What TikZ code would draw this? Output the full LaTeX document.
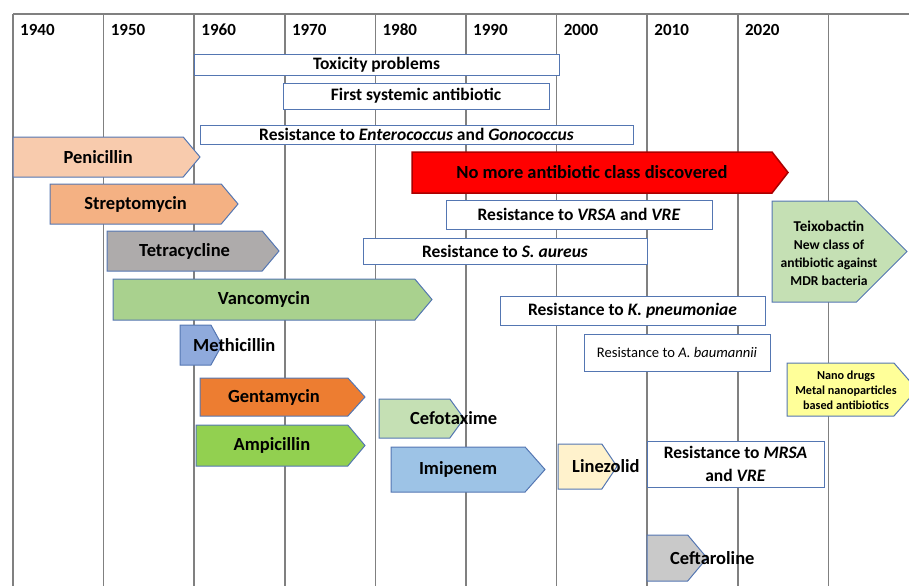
\documentclass[tikz,border=0pt]{standalone}
\usepackage{fontspec}
\setmainfont{Carlito}
\usetikzlibrary{shapes.symbols}

\definecolor{edgeblue}{RGB}{84,118,178}
\definecolor{gridgray}{RGB}{128,128,128}
\definecolor{peach}{HTML}{F8CBAD}
\definecolor{salmon}{HTML}{F4B183}
\definecolor{tetragray}{HTML}{AEABAB}
\definecolor{vancogreen}{HTML}{A9D18E}
\definecolor{methiblue}{HTML}{8FAADC}
\definecolor{gentaorange}{HTML}{ED7D31}
\definecolor{ampigreen}{HTML}{92D050}
\definecolor{cefogreen}{HTML}{C5E0B4}
\definecolor{imiblue}{HTML}{9DC3E6}
\definecolor{linecream}{HTML}{FFF2CC}
\definecolor{ceftgray}{HTML}{C9C9C9}
\definecolor{nanoyellow}{HTML}{FFFF99}
\definecolor{darkred}{RGB}{170,0,0}

\newcommand{\fsz}[2]{\fontsize{#1}{#2}\selectfont}

\begin{document}
\begin{tikzpicture}[x=1pt,y=-1pt,
        gridline/.style={draw=gridgray,line width=1.5pt},
        year/.style={anchor=west,inner sep=0pt,font=\fsz{17}{20}\bfseries},
        resbox/.style={draw=edgeblue,fill=white,line width=1pt,anchor=north west,
            inner sep=0pt,outer sep=0pt,align=center,font=\fsz{17.5}{23}\bfseries},
        drug/.style={signal,signal to=east,signal pointer angle=100,draw=edgeblue,
            line width=1pt,anchor=west,inner sep=0pt,outer sep=0pt,font=\fsz{18.5}{22}\bfseries},
        druglabel/.style={anchor=west,inner sep=0pt,font=\fsz{18.5}{22}\bfseries}]

    \useasboundingbox (0,0) rectangle (909,586);

    % time grid
    \draw[gridline] (13,14) -- (909,14);
    \foreach \i in {0,...,9}
        \draw[gridline] (13+90.6*\i,14) -- (13+90.6*\i,586);
    \foreach \yr [count=\i from 0] in {1940,1950,...,2020}
        \node[year] (y\yr) at (20+90.6*\i,30) {\yr};

    % events
    \node[resbox,minimum width=365,minimum height=20] (toxicity) at (194,55) {Toxicity problems};
    \node[resbox,minimum width=266,minimum height=26] (systemic) at (283,83) {First systemic antibiotic};
    \node[resbox,minimum width=433,minimum height=19] (entero) at (200,125)
        {Resistance to \textit{Enterococcus} and \textit{Gonococcus}};
    \node[resbox,minimum width=266,minimum height=29] (vrsa) at (446,200)
        {Resistance to \textit{VRSA} and \textit{VRE}};
    \node[resbox,minimum width=284,minimum height=26] (saureus) at (363,238)
        {Resistance to \textit{S. aureus}};
    \node[resbox,minimum width=265,minimum height=29] (kpneumo) at (500,296)
        {Resistance to \textit{K. pneumoniae}};
    \node[resbox,minimum width=186,minimum height=37,font=\fsz{14.6}{17}] (abauman) at (584,334)
        {Resistance to \textit{A. baumannii}};
    \node[resbox,minimum width=177,minimum height=46] (mrsa) at (647,441)
        {Resistance to \textit{MRSA}\\and \textit{VRE}};

    \node[drug,fill=red,draw=darkred,line width=1.5pt,minimum width=376,minimum height=41,
        signal pointer angle=104] (noclass) at (412,172.5) {No more antibiotic class discovered};

    % antibiotics
    \node[drug,fill=peach,minimum width=187,minimum height=40] (penicillin) at (13,157) {Penicillin};
    \node[drug,fill=salmon,minimum width=188,minimum height=40] (streptomycin) at (50,204) {Streptomycin};
    \node[drug,fill=tetragray,minimum width=172,minimum height=40] (tetracycline) at (107,251) {Tetracycline};
    \node[drug,fill=vancogreen,minimum width=319,minimum height=41] (vancomycin) at (113,299.5) {Vancomycin};
    \node[drug,fill=methiblue,minimum width=42,minimum height=40,signal pointer angle=122] (methicillin) at (180,345) {};
    \node[druglabel] (methilab) at (193,345) {Methicillin};
    \node[drug,fill=gentaorange,minimum width=165,minimum height=38,signal pointer angle=96] (gentamycin) at (200,397) {Gentamycin};
    \node[drug,fill=ampigreen,minimum width=169,minimum height=41] (ampicillin) at (196,445.5) {Ampicillin};
    \node[drug,fill=cefogreen,minimum width=85,minimum height=39,signal pointer angle=108] (cefotaxime) at (379,418.5) {};
    \node[druglabel] (cefolab) at (410,418.5) {Cefotaxime};
    \node[drug,fill=imiblue,minimum width=154,minimum height=45,signal pointer angle=97] (imipenem) at (391,469.5) {Imipenem};
    \node[drug,fill=linecream,minimum width=59,minimum height=45,signal pointer angle=112] (linezolid) at (558,466.5) {};
    \node[druglabel] (linelab) at (572,466.5) {Linezolid};
    \node[drug,fill=ceftgray,minimum width=60,minimum height=46] (ceftaroline) at (647,558) {};
    \node[druglabel] (ceftlab) at (670,558) {Ceftaroline};

    % new classes
    \node[drug,fill=cefogreen,minimum width=135,minimum height=101,signal pointer angle=90] (teixobactin) at (772,251.5) {};
    \node[align=center,inner sep=0pt,font=\fsz{13.6}{18}\bfseries] (teixolab) at (829,253)
        {{\fsz{15}{18}Teixobactin}\\New class of\\antibiotic against\\MDR bacteria};
    \node[drug,fill=nanoyellow,minimum width=130,minimum height=53,signal pointer angle=98] (nanodrugs) at (787,389.5) {};
    \node[align=center,inner sep=0pt,font=\fsz{12.2}{15}\bfseries] (nanolab) at (846,390)
        {Nano drugs\\Metal nanoparticles\\based antibiotics};
\end{tikzpicture}
\end{document}
